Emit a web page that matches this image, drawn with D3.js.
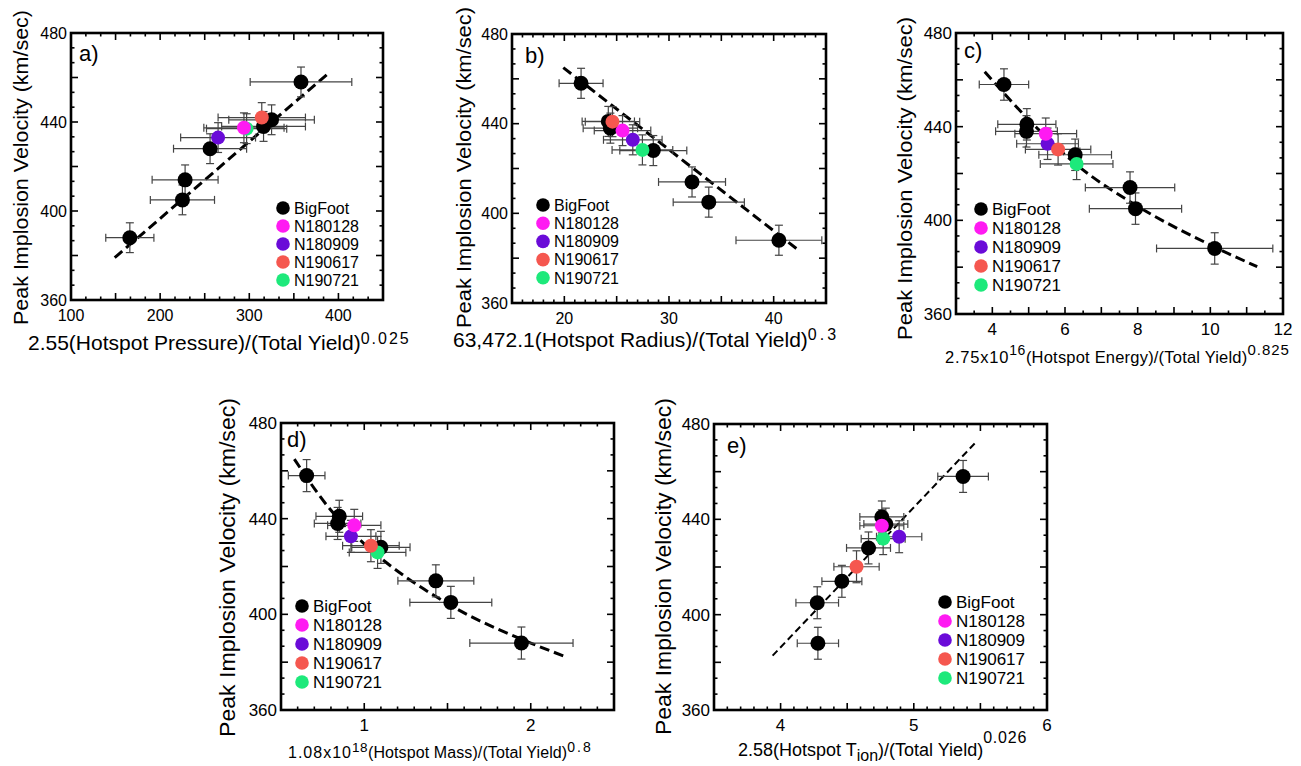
<!DOCTYPE html>
<html>
<head>
<meta charset="utf-8">
<script src="https://cdn.jsdelivr.net/npm/d3@7"></script>
<style>
  body { margin: 0; background: #ffffff; }
  svg { display: block; font-family: "Liberation Sans", Arial, Helvetica, sans-serif; }
</style>
</head>
<body>
<svg id="chart" width="1301" height="766"></svg>
<script>
// ---- Shared data -------------------------------------------------------
const shotNames  = ["BigFoot", "N180128", "N180909", "N190617", "N190721"];
const shotColors = ["#000000", "#ff1af2", "#6a0bd8", "#f5574f", "#1de97b"];

// Peak implosion velocity (km/sec) of the seven BigFoot shots
const bigFootVelocity = [458, 441, 438, 428, 414, 405, 388];
const velocityErr = 6.7;
const yTickLabels = [360, 400, 440, 480];

// ---- a) pressure metric ------------------------------------------------
const aBigFootX    = [358, 325, 316, 256, 228, 225, 166];
const aBigFootXErr = [57, 48, 47, 41, 37, 36, 27];
const aShotX       = [294, 265, 314, 297];      // N180128, N180909, N190617, N190721
const aShotV       = [437.4, 433, 442, 437];
const aShotXErr    = [45, 42, 49, 45];
const aFit         = [[149, 379], [389, 462]];
const aXTickLabels = [100, 200, 300, 400];

// ---- b) radius metric --------------------------------------------------
const bBigFootX    = [21.6, 24.2, 24.4, 28.5, 32.2, 33.8, 40.5];
const bBigFootXErr = [2.1, 2.5, 2.6, 3.2, 3.2, 3.4, 4.1];
const bShotX       = [25.56, 26.54, 24.6, 27.46];
const bShotV       = [436.9, 432.8, 440.9, 428.3];
const bShotXErr    = [2.7, 2.8, 2.6, 2.9];
const bFit         = [[19.9, 465], [42.4, 383.5]];
const bXTickLabels = [20, 30, 40];

// ---- c) energy metric --------------------------------------------------
const cBigFootX    = [4.32, 4.95, 4.94, 6.28, 7.79, 7.94, 10.12];
const cBigFootXErr = [0.68, 0.8, 0.85, 1.0, 1.23, 1.27, 1.6];
const cShotX       = [5.47, 5.52, 5.81, 6.32];
const cShotV       = [437, 432.7, 430.3, 424.1];
const cShotXErr    = [0.85, 0.85, 0.9, 1.0];
const cFit         = [[3.79, 463.5], [5.0, 443], [6.3, 424], [8.0, 406], [10.0, 389.5], [11.29, 380.2]];
const cXTickLabels = [4, 6, 8, 10, 12];

// ---- d) mass metric ----------------------------------------------------
const dBigFootX    = [0.654, 0.85, 0.84, 1.10, 1.43, 1.52, 1.944];
const dBigFootXErr = [0.11, 0.14, 0.14, 0.175, 0.228, 0.246, 0.31];
const dShotX       = [0.94, 0.92, 1.04, 1.08];
const dShotV       = [437.2, 432.6, 428.7, 425.9];
const dShotXErr    = [0.16, 0.15, 0.17, 0.17];
const dFit         = [[0.58, 464.9], [0.8, 443.5], [1.0, 429.5], [1.5, 404.5], [2.0, 388], [2.22, 382]];
const dXTickLabels = [1, 2];

// ---- e) ion temperature metric -----------------------------------------
const eBigFootX    = [5.37, 4.76, 4.79, 4.66, 4.46, 4.275, 4.28];
const eBigFootXErr = [0.19, 0.165, 0.165, 0.165, 0.15, 0.16, 0.155];
const eShotX       = [4.76, 4.89, 4.57, 4.77];
const eShotV       = [437.3, 432.7, 420.1, 431.9];
const eShotXErr    = [0.165, 0.17, 0.17, 0.165];
const eFit         = [[3.94, 382.8], [5.47, 472.6]];
const eXTickLabels = [4, 5, 6];

// ---- Panel layout ------------------------------------------------------
// x-title parts: [text, baseline shift, font size, letter spacing]
const panels = [
  { tag: "a)", box: [71, 33, 383, 300], xDomain: [100, 450], xLong: 50, xMinor: 50 / 3,
    bx: aBigFootX, bxe: aBigFootXErr, sx: aShotX, sv: aShotV, sxe: aShotXErr, fit: aFit, xt: aXTickLabels,
    tickFont: 16, tagPos: [79, 61], yTitle: { x: 28, cy: 167.5, len: 315, size: 21 },
    xTitle: { x: 28, y: 350, parts: [["2.55(Hotspot Pressure)/(Total Yield)", 0, 21, 0], ["0.025", -6, 16, 2]] },
    legend: { x: 283, y: 208, dy: 18, size: 16 }, fitW: 3, dash: "10,5" },
  { tag: "b)", box: [512, 34, 826, 303], xDomain: [15, 45], xLong: 5, xMinor: 1,
    bx: bBigFootX, bxe: bBigFootXErr, sx: bShotX, sv: bShotV, sxe: bShotXErr, fit: bFit, xt: bXTickLabels,
    tickFont: 16, tagPos: [525, 63], yTitle: { x: 471, cy: 167.5, len: 321, size: 21 },
    xTitle: { x: 453, y: 347, parts: [["63,472.1(Hotspot Radius)/(Total Yield)", 0, 21, 0], ["0.3", -7, 16, 3]] },
    legend: { x: 543, y: 205, dy: 18.2, size: 16 }, fitW: 3, dash: "10,5" },
  { tag: "c)", box: [956, 33, 1283, 314], xDomain: [3, 12], xLong: 1, xMinor: 0.5,
    bx: cBigFootX, bxe: cBigFootXErr, sx: cShotX, sv: cShotV, sxe: cShotXErr, fit: cFit, xt: cXTickLabels,
    tickFont: 17, tagPos: [964, 58], yTitle: { x: 912, cy: 178.5, len: 323, size: 21 },
    xTitle: { x: 945, y: 363, parts: [["2.75x10", 0, 16.5, 0.8], ["16", -8, 14, 0.5], ["(Hotspot Energy)/(Total Yield)", 0, 16.5, 0.2], ["0.825", -8, 15, 1]] },
    legend: { x: 981, y: 209, dy: 19, size: 17 }, fitW: 3, dash: "10,5" },
  { tag: "d)", box: [281, 423, 614, 710], xDomain: [0.5, 2.5], xLong: 0.5, xMinor: 0.1,
    bx: dBigFootX, bxe: dBigFootXErr, sx: dShotX, sv: dShotV, sxe: dShotXErr, fit: dFit, xt: dXTickLabels,
    tickFont: 17, tagPos: [287, 447], yTitle: { x: 235, cy: 567.5, len: 339, size: 22 },
    xTitle: { x: 288, y: 758, parts: [["1.08x10", 0, 16, 1], ["18", -6, 13.5, 0.5], ["(Hotspot Mass)/(Total Yield)", 0, 16, 0.1], ["0.8", -6, 14, 2]] },
    legend: { x: 302, y: 606, dy: 19, size: 17 }, fitW: 3, dash: "10,5" },
  { tag: "e)", box: [714, 424, 1047, 710], xDomain: [3.5, 6], xLong: 0.5, xMinor: 0.1,
    bx: eBigFootX, bxe: eBigFootXErr, sx: eShotX, sv: eShotV, sxe: eShotXErr, fit: eFit, xt: eXTickLabels,
    tickFont: 17, tagPos: [727, 453], yTitle: { x: 671, cy: 566.5, len: 337, size: 22 },
    xTitle: { x: 738, y: 756, parts: [["2.58(Hotspot T", 0, 18, 0], ["ion", 5, 16, 0], [")/(Total Yield)", 0, 18, 0], ["0.026", -13, 16, 0.8]] },
    legend: { x: 945, y: 602, dy: 19, size: 17 }, fitW: 2, dash: "7,4" }
];

const svg = d3.select("#chart");
const errColor = "#444444";

function tickValues(d0, d1, step) {
  const n = Math.round((d1 - d0) / step);
  return d3.range(n + 1).map(i => d0 + i * step);
}
function isMultiple(v, step) {
  const r = v / step;
  return Math.abs(r - Math.round(r)) < 1e-6;
}

panels.forEach(p => {
  const [x0, y0, x1, y1] = p.box;
  const x = d3.scaleLinear().domain(p.xDomain).range([x0, x1]);
  const y = d3.scaleLinear().domain([360, 480]).range([y1, y0]);
  const g = svg.append("g");

  // fit line
  const line = d3.line().x(d => x(d[0])).y(d => y(d[1])).curve(d3.curveMonotoneX);
  g.append("path").datum(p.fit).attr("d", line)
    .attr("fill", "none").attr("stroke", "#000").attr("stroke-width", p.fitW)
    .attr("stroke-dasharray", p.dash);

  // assemble points: BigFoot first, then shots drawn in overlap order
  const pts = [];
  p.bx.forEach((v, i) => pts.push({ x: v, xe: p.bxe[i], v: bigFootVelocity[i], c: shotColors[0], r: 7.5 }));
  [3, 1, 0, 2].forEach(k => pts.push({ x: p.sx[k], xe: p.sxe[k], v: p.sv[k], c: shotColors[k + 1], r: 7 }));

  // error bars
  const eb = g.append("g").attr("stroke", errColor).attr("stroke-width", 1.2).attr("fill", "none");
  pts.forEach(d => {
    const cx = x(d.x), cy = y(d.v);
    const xl = x(d.x - d.xe), xr = x(d.x + d.xe);
    const yt = y(d.v + velocityErr), yb = y(d.v - velocityErr);
    eb.append("line").attr("x1", xl).attr("x2", xr).attr("y1", cy).attr("y2", cy);
    eb.append("line").attr("x1", xl).attr("x2", xl).attr("y1", cy - 4).attr("y2", cy + 4);
    eb.append("line").attr("x1", xr).attr("x2", xr).attr("y1", cy - 4).attr("y2", cy + 4);
    eb.append("line").attr("x1", cx).attr("x2", cx).attr("y1", yt).attr("y2", yb);
    eb.append("line").attr("x1", cx - 4).attr("x2", cx + 4).attr("y1", yt).attr("y2", yt);
    eb.append("line").attr("x1", cx - 4).attr("x2", cx + 4).attr("y1", yb).attr("y2", yb);
  });

  // markers
  g.append("g").selectAll("circle").data(pts).join("circle")
    .attr("cx", d => x(d.x)).attr("cy", d => y(d.v)).attr("r", d => d.r)
    .attr("fill", d => d.c);

  // ticks on all four sides, pointing inward
  const tk = g.append("g").attr("stroke", "#000").attr("stroke-width", 1.6);
  tickValues(p.xDomain[0], p.xDomain[1], p.xMinor).forEach(v => {
    const len = isMultiple(v, p.xLong) ? 7 : 3.5;
    const px = x(v);
    tk.append("line").attr("x1", px).attr("x2", px).attr("y1", y1).attr("y2", y1 - len);
    tk.append("line").attr("x1", px).attr("x2", px).attr("y1", y0).attr("y2", y0 + len);
  });
  tickValues(360, 480, 20 / 3).forEach(v => {
    const len = isMultiple(v, 20) ? 7 : 3.5;
    const py = y(v);
    tk.append("line").attr("x1", x0).attr("x2", x0 + len).attr("y1", py).attr("y2", py);
    tk.append("line").attr("x1", x1).attr("x2", x1 - len).attr("y1", py).attr("y2", py);
  });

  // frame
  g.append("rect").attr("x", x0).attr("y", y0).attr("width", x1 - x0).attr("height", y1 - y0)
    .attr("fill", "none").attr("stroke", "#000").attr("stroke-width", 2.6);

  // tick labels
  g.append("g").selectAll("text").data(p.xt).join("text")
    .attr("x", d => x(d)).attr("y", y1 + 21).attr("text-anchor", "middle")
    .attr("font-size", p.tickFont).text(d => d);
  g.append("g").selectAll("text").data(yTickLabels).join("text")
    .attr("x", x0 - 4).attr("y", d => y(d)).attr("dy", "0.36em").attr("text-anchor", "end")
    .attr("font-size", p.tickFont).text(d => d);

  // panel tag
  g.append("text").attr("x", p.tagPos[0]).attr("y", p.tagPos[1])
    .attr("font-size", 22).text(p.tag);

  // y title
  g.append("text")
    .attr("transform", `translate(${p.yTitle.x},${p.yTitle.cy}) rotate(-90)`)
    .attr("text-anchor", "middle").attr("font-size", p.yTitle.size)
    .attr("textLength", p.yTitle.len).attr("lengthAdjust", "spacingAndGlyphs")
    .text("Peak Implosion Velocity (km/sec)");

  // x title with super/subscripts
  const t = g.append("text").attr("x", p.xTitle.x).attr("y", p.xTitle.y);
  let shift = 0;
  p.xTitle.parts.forEach(([str, s, size, ls]) => {
    t.append("tspan").attr("dy", s - shift)
      .attr("font-size", size).attr("letter-spacing", ls).text(str);
    shift = s;
  });

  // legend
  const lg = g.append("g");
  shotNames.forEach((name, i) => {
    const ly = p.legend.y + i * p.legend.dy;
    lg.append("circle").attr("cx", p.legend.x).attr("cy", ly).attr("r", 6.8).attr("fill", shotColors[i]);
    lg.append("text").attr("x", p.legend.x + 11).attr("y", ly).attr("dy", "0.36em")
      .attr("font-size", p.legend.size).text(name);
  });
});
</script>
</body>
</html>
